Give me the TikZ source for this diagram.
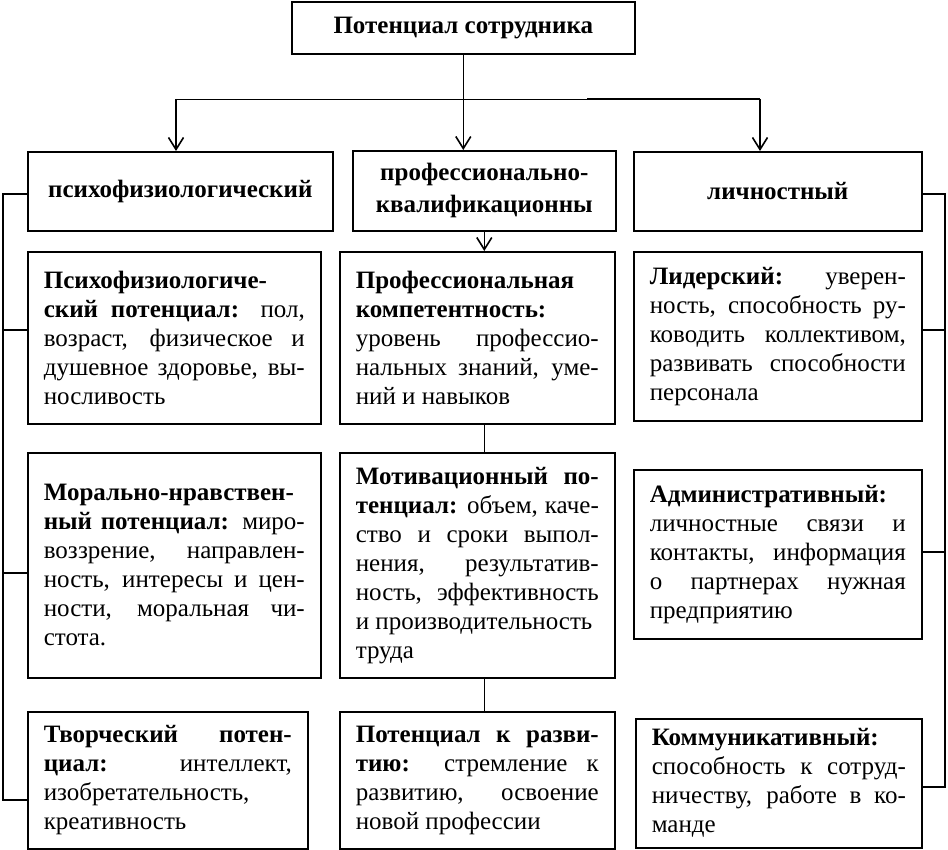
\documentclass[tikz,border=0pt]{standalone}
\usepackage{fontspec}
\setmainfont{Liberation Serif}
\usetikzlibrary{arrows.meta}

\begin{document}
\begin{tikzpicture}[x=1pt, y=-1pt,
    every node/.style={font=\fontsize{25}{29}\selectfont},
    box/.style={draw, line width=1.6pt, anchor=north west, inner sep=0pt},
    headbox/.style={box, align=center, font=\fontsize{25}{32}\selectfont\bfseries},
    infobox/.style={box, align=justify, inner xsep=16pt},
    link/.style={line width=1.6pt},
    arrow/.style={line width=1.6pt, -{Straight Barb[length=12pt, width=15pt, line width=1.6pt]}}]
  \useasboundingbox (0,0) rectangle (948,850);

  % top box
  \node[headbox, minimum width=343pt, minimum height=52pt] (top) at (291,1) {Потенциал сотрудника};

  % three kinds
  \node[headbox, minimum width=305pt, minimum height=79pt] (psy) at (27,151) {психофизиологический};
  \node[headbox, minimum width=263pt, minimum height=80pt] (prof) at (352,150) {профессионально-\\квалификационны};
  \node[headbox, minimum width=288pt, minimum height=79pt] (lich) at (633,151) {личностный};

  % left column
  \node[infobox, text width=261pt, minimum height=172pt] (a1) at (27,251)
    {\textbf{Психофизиологиче-}\\ \textbf{ский потенциал:} пол,\linebreak возраст, физическое и\linebreak душевное здоровье, вы-\linebreak носливость};
  \node[infobox, text width=261pt, minimum height=225pt] (a2) at (27,452)
    {\textbf{Морально-нравствен-}\\ \textbf{ный потенциал:} миро-\linebreak воззрение, направлен-\linebreak ность, интересы и цен-\linebreak ности, моральная чи-\linebreak стота.};
  \node[infobox, text width=248pt, minimum height=137pt] (a3) at (27,711)
    {\textbf{Творческий потен-}\linebreak \textbf{циал:} интеллект,\linebreak изобретательность,\\ креативность};

  % middle column
  \node[infobox, text width=243pt, minimum height=172pt] (b1) at (339,251)
    {\textbf{Профессиональная}\\ \textbf{компетентность:}\\ уровень профессио-\linebreak нальных знаний, уме-\linebreak ний и навыков};
  \node[infobox, text width=243pt, minimum height=225pt] (b2) at (339,452)
    {\textbf{Мотивационный по-}\linebreak \textbf{тенциал:} объем, каче-\linebreak ство и сроки выпол-\linebreak нения, результатив-\linebreak ность, эффективность\linebreak и производительность\\ труда};
  \node[infobox, text width=243pt, minimum height=137pt] (b3) at (339,711)
    {\textbf{Потенциал к разви-}\linebreak \textbf{тию:} стремление к\linebreak развитию, освоение\linebreak новой профессии};

  % right column
  \node[infobox, text width=256pt, minimum height=169pt] (c1) at (633,251)
    {\textbf{Лидерский:} уверен-\linebreak ность, способность ру-\linebreak ководить коллективом,\linebreak развивать способности\linebreak персонала};
  \node[infobox, text width=256pt, minimum height=169pt] (c2) at (633,469)
    {\textbf{Административный:}\\ личностные связи и\linebreak контакты, информация\linebreak о партнерах нужная\linebreak предприятию};
  \node[infobox, text width=254pt, minimum height=129pt] (c3) at (635,718)
    {\textbf{Коммуникативный:}\\ способность к сотруд-\linebreak ничеству, работе в ко-\linebreak манде};

  % branching under the top box
  \coordinate (hl) at (176,99);
  \coordinate (hr) at (760,99);
  \draw[line width=0.8pt] (top.south) -- (top.south |- hl);
  \draw[line width=0.8pt] (hl) -- (hr);
  \draw[link] (587,99) -- (hr);
  \draw[arrow] (hl) -- (hl |- psy.north);
  \draw[arrow] (top.south |- hl) -- (top.south |- prof.north);
  \draw[arrow] (hr) -- (hr |- lich.north);

  % middle chain
  \draw[arrow] (prof.south) -- (prof.south |- b1.north);
  \draw[line width=0.8pt] (prof.south |- b1.south) -- (prof.south |- b2.north);
  \draw[line width=0.8pt] (prof.south |- b2.south) -- (prof.south |- b3.north);

  % left bracket
  \coordinate (lbtop) at (3,194);
  \coordinate (lbbot) at (3,800);
  \draw[link] (psy.west |- lbtop) -- (lbtop) -- (lbbot) -- (a3.west |- lbbot);
  \draw[link] (a1.west |- 0,330) -- (lbtop |- 0,330);
  \draw[link] (a2.west |- 0,573) -- (lbtop |- 0,573);

  % right bracket
  \coordinate (rbtop) at (945,194);
  \coordinate (rbbot) at (945,787);
  \draw[link] (lich.east |- rbtop) -- (rbtop) -- (rbbot) -- (c3.east |- rbbot);
  \draw[link] (c1.east |- 0,330) -- (rbtop |- 0,330);
  \draw[link] (c2.east |- 0,552) -- (rbtop |- 0,552);
\end{tikzpicture}
\end{document}
